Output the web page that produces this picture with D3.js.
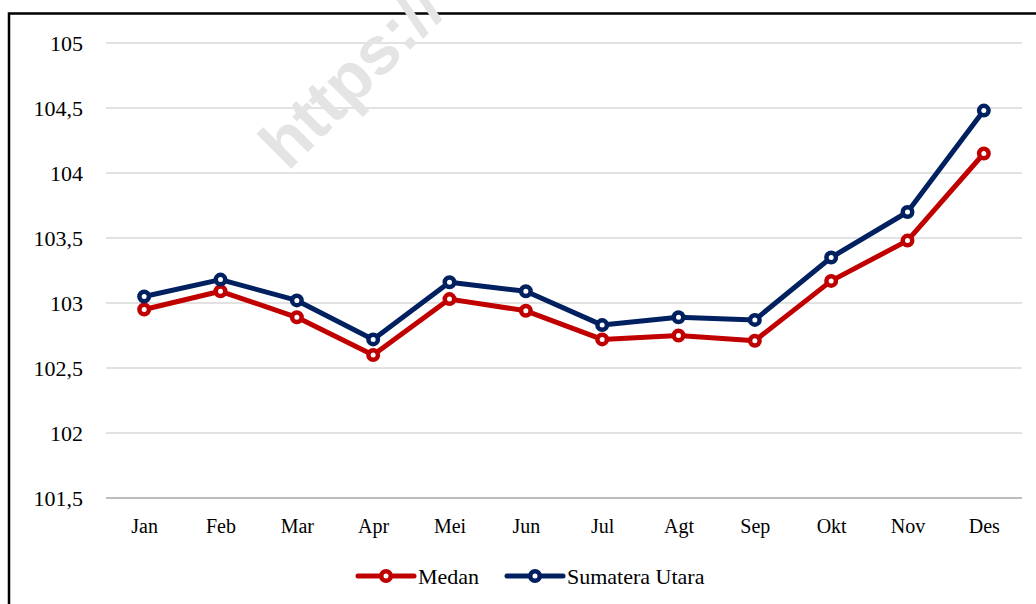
<!DOCTYPE html>
<html>
<head>
<meta charset="utf-8">
<script src="https://cdn.jsdelivr.net/npm/d3@7"></script>
<style>
  body { margin: 0; background: #fff; }
  svg text { font-family: "Liberation Serif", "Times New Roman", serif; fill: #000; }
</style>
</head>
<body>
<svg id="chart" width="1036" height="604"></svg>
<script>
// data
var months = ['Jan', 'Feb', 'Mar', 'Apr', 'Mei', 'Jun', 'Jul', 'Agt', 'Sep', 'Okt', 'Nov', 'Des'];
var medan = [102.95, 103.09, 102.89, 102.60, 103.03, 102.94, 102.72, 102.75, 102.71, 103.17, 103.48, 104.15];
var sumut = [103.05, 103.18, 103.02, 102.72, 103.16, 103.09, 102.83, 102.89, 102.87, 103.35, 103.70, 104.48];
var yTicks = [101.5, 102, 102.5, 103, 103.5, 104, 104.5, 105];

var seriesList = [
  { name: 'Medan', values: medan, color: '#c00000' },
  { name: 'Sumatera Utara', values: sumut, color: '#002060' }
];

var svg = d3.select('#chart');

var plotLeft = 106, plotRight = 1022, plotTop = 43, plotBottom = 498;

var x = d3.scalePoint().domain(months).range([plotLeft, plotRight]).padding(0.5);
var y = d3.scaleLinear().domain([101.5, 105]).range([plotBottom, plotTop]);

// frame
svg.append('rect')
  .attr('x', 9).attr('y', 13.5)
  .attr('width', 1100).attr('height', 700)
  .attr('fill', 'none')
  .attr('stroke', '#000')
  .attr('stroke-width', 2.5);

// grid
svg.append('g')
  .selectAll('line')
  .data(yTicks)
  .enter().append('line')
  .attr('x1', plotLeft).attr('x2', plotRight)
  .attr('y1', function(d) { return y(d); })
  .attr('y2', function(d) { return y(d); })
  .attr('stroke', function(d) { return d === 101.5 ? '#a6a6a6' : '#d9d9d9'; })
  .attr('stroke-width', 1.5);

// watermark
svg.append('text')
  .attr('transform', 'translate(288,172) rotate(-45)')
  .style('font-family', '"Liberation Sans", Arial, sans-serif')
  .style('font-weight', 'bold')
  .style('font-size', '68px')
  .style('fill', '#e4e4e4')
  .text('https://');

// y axis labels
var yAxis = d3.axisLeft(y).tickValues(yTicks).tickSize(0).tickPadding(0)
  .tickFormat(function(d) { return String(d).replace('.', ','); });

var yg = svg.append('g')
  .attr('transform', 'translate(83,0)')
  .call(yAxis)
  .attr('font-family', null)
  .attr('font-size', null);
yg.select('.domain').remove();
yg.selectAll('text')
  .attr('x', 0)
  .attr('dy', '0.35em')
  .style('font-size', '22px');

// x axis labels
var xAxis = d3.axisBottom(x).tickSize(0).tickPadding(0);
var xg = svg.append('g')
  .attr('transform', 'translate(0,519)')
  .call(xAxis)
  .attr('font-family', null)
  .attr('font-size', null);
xg.select('.domain').remove();
xg.selectAll('text')
  .style('font-size', '20px');

// lines
var line = d3.line()
  .x(function(d, i) { return x(months[i]); })
  .y(function(d) { return y(d); });

seriesList.forEach(function(s) {
  svg.append('path')
    .datum(s.values)
    .attr('d', line)
    .attr('fill', 'none')
    .attr('stroke', s.color)
    .attr('stroke-width', 5)
    .attr('stroke-linejoin', 'round');

  svg.append('g')
    .selectAll('circle')
    .data(s.values)
    .enter().append('circle')
    .attr('cx', function(d, i) { return x(months[i]); })
    .attr('cy', function(d) { return y(d); })
    .attr('r', 4.75)
    .attr('fill', '#fff')
    .attr('stroke', s.color)
    .attr('stroke-width', 4.5);
});

// legend
var legendY = 576;
var legendX = [358, 507];
seriesList.forEach(function(s, i) {
  var g = svg.append('g').attr('transform', 'translate(' + legendX[i] + ',' + legendY + ')');
  g.append('line')
    .attr('x1', 0).attr('x2', 56)
    .attr('stroke', s.color)
    .attr('stroke-width', 5)
    .attr('stroke-linecap', 'round');
  g.append('circle')
    .attr('cx', 28).attr('r', 4.75)
    .attr('fill', '#fff')
    .attr('stroke', s.color)
    .attr('stroke-width', 4.5);
  g.append('text')
    .attr('x', 60)
    .attr('dy', '0.35em')
    .style('font-size', '22px')
    .text(s.name);
});
</script>
</body>
</html>
